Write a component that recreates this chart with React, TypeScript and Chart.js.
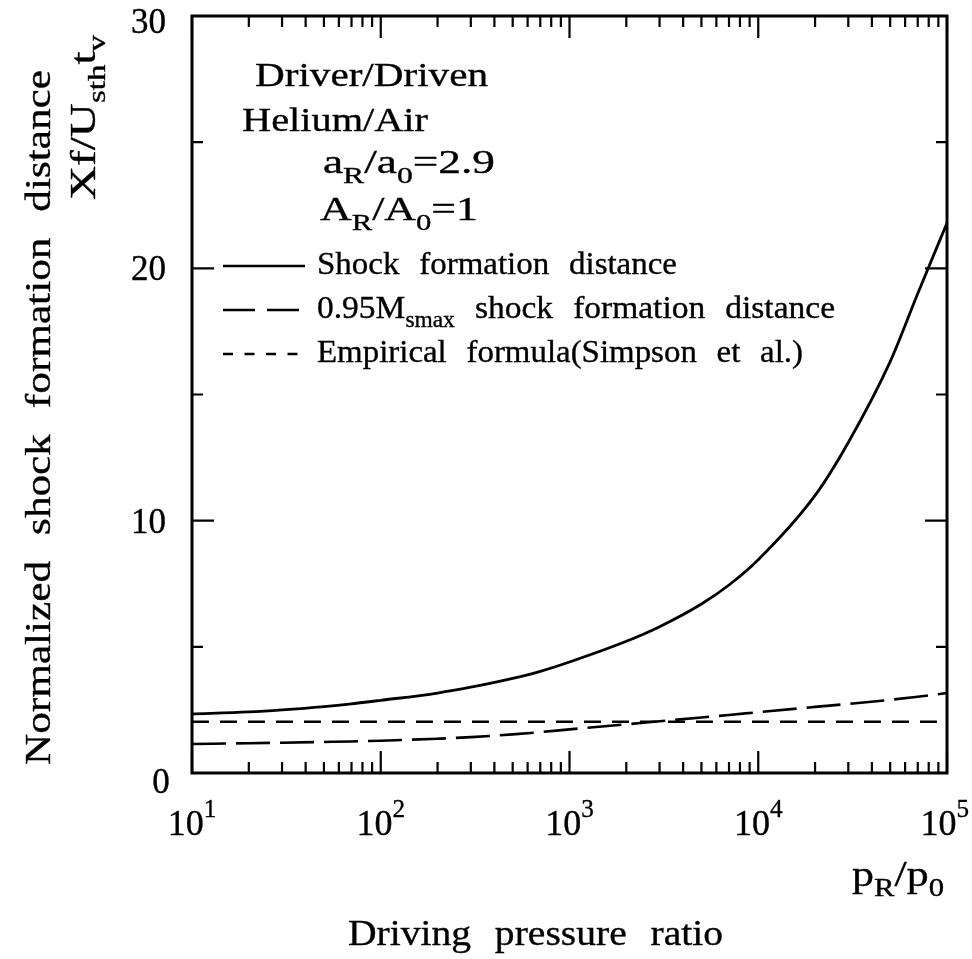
import { useEffect, useRef } from 'react';
import { Chart, registerables } from 'chart.js';

Chart.register(...registerables);

// ---- data ----
const pressureRatio = [10, 20, 30, 50, 70, 100, 200, 300, 500, 700, 1000, 2000, 3000, 5000, 7000, 10000, 20000, 30000, 50000, 70000, 100000];
const shockFormation = [2.34, 2.42, 2.5, 2.63, 2.74, 2.88, 3.17, 3.4, 3.75, 4.03, 4.4, 5.22, 5.8, 6.7, 7.45, 8.45, 11.0, 13.1, 16.3, 19.0, 21.8];
const msmaxFormation = [1.15, 1.18, 1.2, 1.23, 1.25, 1.28, 1.36, 1.42, 1.53, 1.62, 1.73, 1.93, 2.05, 2.2, 2.3, 2.41, 2.62, 2.74, 2.9, 3.02, 3.17];
const empiricalFormula = [2.03, 2.03, 2.03, 2.03, 2.03, 2.03, 2.03, 2.03, 2.03, 2.03, 2.03, 2.03, 2.03, 2.03, 2.03, 2.03, 2.03, 2.03, 2.03, 2.03, 2.03];

const xMajorTicks = [10, 100, 1000, 10000, 100000];
const xTickExponents = ['1', '2', '3', '4', '5'];
const xMinorMultipliers = [2, 3, 4, 5, 6, 7, 8, 9];
const yMajorTicks = [0, 10, 20, 30];
const yTickLabels = ['0', '10', '20', '30'];
const yMinorTicks = [5, 15, 25];

const seriesLabels = ['Shock formation distance', 'shock formation distance', 'Empirical formula(Simpson et al.)'];

const FONT = '"Liberation Serif", "Times New Roman", serif';

type Seg = { t: string; s?: 'sub' | 'sup' };

function segFont(size: number, s?: string) {
  return `${s ? size * 0.7 : size}px ${FONT}`;
}

function richWidth(ctx: CanvasRenderingContext2D, segs: Seg[], size: number, gapEm: number) {
  let w = 0;
  for (const seg of segs) {
    ctx.font = segFont(size, seg.s);
    const words = seg.t.split(' ');
    words.forEach((wd, i) => {
      w += ctx.measureText(wd).width;
      if (i < words.length - 1) w += gapEm * size;
    });
  }
  return w;
}

function drawRich(
  ctx: CanvasRenderingContext2D,
  segs: Seg[],
  x: number,
  y: number,
  size: number,
  opt: { align?: 'left' | 'center' | 'right'; width?: number; rotate?: boolean; gapEm?: number } = {}
) {
  const gapEm = opt.gapEm ?? 0.5;
  const W = richWidth(ctx, segs, size, gapEm);
  const sx = opt.width ? opt.width / W : 1;
  ctx.save();
  ctx.translate(x, y);
  if (opt.rotate) ctx.rotate(-Math.PI / 2);
  ctx.scale(sx, 1);
  ctx.fillStyle = '#000';
  ctx.strokeStyle = '#000';
  ctx.lineWidth = 0.35;
  ctx.setLineDash([]);
  ctx.textBaseline = 'alphabetic';
  ctx.textAlign = 'left';
  let cx = opt.align === 'center' ? -W / 2 : opt.align === 'right' ? -W : 0;
  for (const seg of segs) {
    ctx.font = segFont(size, seg.s);
    const dy = seg.s === 'sub' ? size * 0.28 : seg.s === 'sup' ? -size * 0.5 : 0;
    const words = seg.t.split(' ');
    words.forEach((wd, i) => {
      ctx.fillText(wd, cx, dy);
      ctx.strokeText(wd, cx, dy);
      cx += ctx.measureText(wd).width;
      if (i < words.length - 1) cx += gapEm * size;
    });
  }
  ctx.restore();
}

const decorPlugin = {
  id: 'decor',
  afterDraw(chart: any) {
    const ctx: CanvasRenderingContext2D = chart.ctx;
    const { left, right, top, bottom } = chart.chartArea;
    const xs = chart.scales.x;
    const ys = chart.scales.y;
    ctx.save();
    ctx.strokeStyle = '#000';
    ctx.lineCap = 'butt';
    ctx.setLineDash([]);

    // ticks (inward, all four sides)
    ctx.lineWidth = 2.2;
    const vTick = (px: number, len: number) => {
      ctx.beginPath();
      ctx.moveTo(px, bottom);
      ctx.lineTo(px, bottom - len);
      ctx.moveTo(px, top);
      ctx.lineTo(px, top + len);
      ctx.stroke();
    };
    const hTick = (py: number, len: number) => {
      ctx.beginPath();
      ctx.moveTo(left, py);
      ctx.lineTo(left + len, py);
      ctx.moveTo(right, py);
      ctx.lineTo(right - len, py);
      ctx.stroke();
    };
    xMajorTicks.forEach((v) => vTick(xs.getPixelForValue(v), 22));
    xMajorTicks.slice(0, -1).forEach((base) =>
      xMinorMultipliers.forEach((k) => vTick(xs.getPixelForValue(base * k), 11))
    );
    yMajorTicks.forEach((v) => hTick(ys.getPixelForValue(v), 22));
    yMinorTicks.forEach((v) => hTick(ys.getPixelForValue(v), 11));

    // frame
    ctx.lineWidth = 3;
    ctx.strokeRect(left, top, right - left, bottom - top);

    // y tick labels
    yMajorTicks.forEach((v, i) => {
      const py = ys.getPixelForValue(v);
      if (v === 0) {
        drawRich(ctx, [{ t: yTickLabels[i] }], 161, py + 20, 35, { align: 'center' });
      } else {
        drawRich(ctx, [{ t: yTickLabels[i] }], 166, Math.max(py + 12, 33), 35, { align: 'right' });
      }
    });

    // x tick labels 10^n
    xMajorTicks.forEach((v, i) => {
      const px = xs.getPixelForValue(v);
      const segs: Seg[] = [{ t: '10' }, { t: xTickExponents[i], s: 'sup' }];
      const w = richWidth(ctx, segs, 36, 0.5);
      let x0 = px - w / 2;
      if (x0 + w > 969) x0 = 969 - w;
      drawRich(ctx, segs, x0, 835, 36, { align: 'left' });
    });

    // axis titles
    drawRich(ctx, [{ t: 'p' }, { t: 'R', s: 'sub' }, { t: '/p' }, { t: '0', s: 'sub' }], 852, 886, 35, { width: 92 });
    drawRich(ctx, [{ t: 'Driving pressure ratio' }], 348, 945, 36, { width: 375, gapEm: 0.6 });
    drawRich(ctx, [{ t: 'Normalized shock formation distance' }], 50, 765, 36, { rotate: true, width: 695, gapEm: 0.6 });
    drawRich(ctx, [{ t: 'Xf/U' }, { t: 'sth', s: 'sub' }, { t: 't' }, { t: 'v', s: 'sub' }], 95, 200, 36, { rotate: true, width: 165 });

    // annotation block
    drawRich(ctx, [{ t: 'Driver/Driven' }], 255, 86, 34, { width: 233 });
    drawRich(ctx, [{ t: 'Helium/Air' }], 242, 131, 34, { width: 186 });
    drawRich(ctx, [{ t: 'a' }, { t: 'R', s: 'sub' }, { t: '/a' }, { t: '0', s: 'sub' }, { t: '=2.9' }], 323, 173, 34, { width: 172 });
    drawRich(ctx, [{ t: 'A' }, { t: 'R', s: 'sub' }, { t: '/A' }, { t: '0', s: 'sub' }, { t: '=1' }], 320, 220, 34, { width: 158 });

    // legend
    const rows = [266, 310, 354];
    ctx.lineWidth = 2.6;
    ctx.beginPath();
    ctx.moveTo(223, rows[0]);
    ctx.lineTo(305, rows[0]);
    ctx.stroke();
    ctx.setLineDash([32, 12]);
    ctx.beginPath();
    ctx.moveTo(223, rows[1]);
    ctx.lineTo(305, rows[1]);
    ctx.stroke();
    ctx.setLineDash([10, 11.5]);
    ctx.beginPath();
    ctx.moveTo(223, rows[2]);
    ctx.lineTo(300, rows[2]);
    ctx.stroke();
    ctx.setLineDash([]);
    drawRich(ctx, [{ t: seriesLabels[0] }], 317, rows[0] + 8, 32, { width: 360, gapEm: 0.6 });
    drawRich(ctx, [{ t: '0.95M' }, { t: 'smax', s: 'sub' }, { t: ' ' + seriesLabels[1] }], 317, rows[1] + 8, 32, { width: 518, gapEm: 0.6 });
    drawRich(ctx, [{ t: seriesLabels[2] }], 317, rows[2] + 8, 32, { width: 486, gapEm: 0.6 });
    ctx.restore();
  },
};

export default function App() {
  const ref = useRef<HTMLCanvasElement | null>(null);
  useEffect(() => {
    if (!ref.current) return;
    const mk = (ys: number[]) => pressureRatio.map((x, i) => ({ x, y: ys[i] }));
    const chart = new Chart(ref.current, {
      type: 'line',
      data: {
        datasets: [
          { label: seriesLabels[0], data: mk(shockFormation), borderColor: '#000', borderWidth: 2.8, pointRadius: 0, cubicInterpolationMode: 'monotone', fill: false },
          { label: seriesLabels[1], data: mk(msmaxFormation), borderColor: '#000', borderWidth: 2.6, borderDash: [34, 10], pointRadius: 0, cubicInterpolationMode: 'monotone', fill: false },
          { label: seriesLabels[2], data: mk(empiricalFormula), borderColor: '#000', borderWidth: 2.6, borderDash: [17, 11], pointRadius: 0, fill: false },
        ],
      },
      options: {
        responsive: false,
        animation: false,
        layout: { padding: { left: 192, right: 25, top: 16, bottom: 186 } },
        scales: {
          x: { type: 'logarithmic', min: 10, max: 100000, display: false },
          y: { type: 'linear', min: 0, max: 30, display: false },
        },
        plugins: { legend: { display: false }, tooltip: { enabled: false } },
      },
      plugins: [decorPlugin],
    } as any);
    return () => chart.destroy();
  }, []);
  return (
    <div>
      <style>{'html,body{margin:0;padding:0;overflow:hidden;background:#fff}'}</style>
      <canvas ref={ref} width={972} height={959} style={{ display: 'block' }} />
    </div>
  );
}
